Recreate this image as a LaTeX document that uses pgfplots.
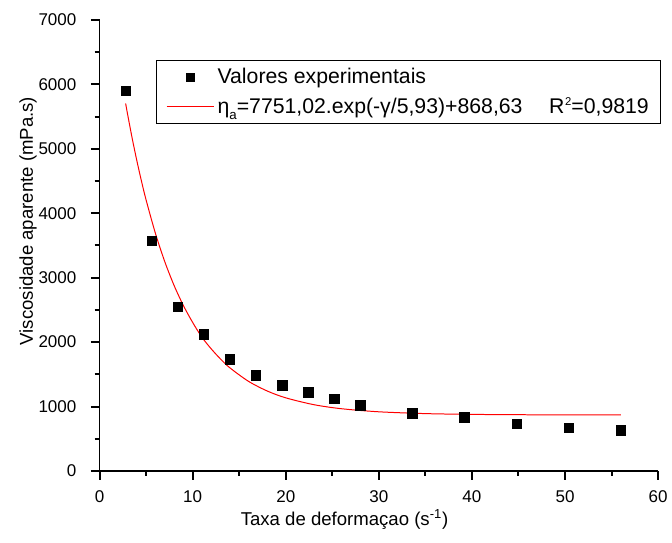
\documentclass[border=0pt]{standalone}
\usepackage{fontspec}
\setmainfont{Liberation Sans}
\usepackage{pgfplots}
\pgfplotsset{compat=1.18}

% legend pictograms: a single square and a short line, both centred at 18pt
\pgfplotsset{
  squareleg/.style={legend image code/.code={%
    \draw[##1, line width=0.4pt, mark size=3pt] plot coordinates {(18pt,0pt)};}},
  lineleg/.style={legend image code/.code={%
    \draw[##1] (0pt,0pt) -- (36pt,0pt);}},
}
\newcommand{\lowidx}[1]{\raisebox{-4.5pt}{\fontsize{10}{10}\selectfont #1}}
\newcommand{\highidx}[1]{\kern0.5pt\raisebox{5.5pt}{\fontsize{8.5}{8.5}\selectfont #1}}

% measured viscosity versus shear rate
\pgfplotstableread{
x     y
2.8   5898
5.6   3575
8.4   2550
11.2  2117
14.0  1731
16.8  1488
19.6  1334
22.4  1221
25.2  1117
28.0  1015
33.6  896
39.2  834
44.8  731
50.4  670
56.0  634
}\experimental

% exponential decay fit, eta = 7751.02 exp(-x/5.93) + 868.63, tabulated
\pgfplotstableread{
x     y
2.8   5702.9
3.0   5542.5
3.5   5164.2
4.0   4817.1
4.5   4497.6
5.0   4204.0
6.0   3686.2
7.0   3249.1
8.0   2879.7
9.0   2567.8
10.0  2304.2
11.0  2074.3
12.0  1893.3
13.0  1736.0
14.0  1600.0
16.0  1390.6
18.0  1241.2
20.0  1134.5
23.0  1028.9
26.0  965.2
30.0  917.9
35.0  889.8
40.0  877.8
45.0  872.6
50.0  870.3
56.0  869.2
}\fit

\begin{document}
\begin{tikzpicture}
\begin{axis}[
  scale only axis,
  width=420.75pt, height=339.75pt,
  xmin=0, xmax=60, ymin=0, ymax=7000,
  axis x line*=bottom, axis y line*=left,
  axis line style={line width=1.3pt, -},
  xtick={0,10,...,60}, ytick={0,1000,...,7000},
  minor xtick={5,15,...,55}, minor ytick={500,1500,...,6500},
  tick align=outside,
  major tick length=6.5pt, minor tick length=3.75pt,
  every tick/.style={line width=1.5pt, draw=black},
  major tick style={line width=1.5pt, draw=black},
  minor tick style={line width=1.5pt, draw=black},
  /pgf/number format/assume math mode=true,
  /pgf/number format/1000 sep={},
  tick label style={font=\fontsize{12.8}{14}\selectfont},
  xticklabel style={yshift=-5pt},
  yticklabel style={xshift=-7.5pt},
  xlabel={Taxa de deformaçao (s\textsuperscript{-1})},
  ylabel={Viscosidade aparente (mPa.s)},
  label style={font=\fontsize{14}{16}\selectfont},
  xlabel style={at={(rel axis cs:0.4385,-0.1214)}, anchor=base},
  ylabel style={at={(rel axis cs:-0.128,0.554)}, anchor=center},
  clip=false,
  legend cell align=left,
  legend style={
    at={(rel axis cs:0.1016,0.9117)}, anchor=north west,
    draw=black, line width=0.8pt,
    font=\fontsize{16}{18}\selectfont,
    inner xsep=7pt, inner ysep=4.25pt,
    row sep=5pt,
    /tikz/every even column/.append style={column sep=4pt},
  },
]
\addplot[only marks, mark=square*, mark size=3.6pt, black, squareleg]
  table[x=x, y=y] {\experimental};
\addlegendentry{Valores experimentais}
\addplot[red, line width=0.75pt, smooth, no marks, lineleg]
  table[x=x, y=y] {\fit};
\addlegendentry{η\lowidx{a}=7751,02.exp(-γ/5,93)+868,63\hspace{20pt}R\highidx{2}=0,9819}
\path (rel axis cs:-0.1783,-0.1589) rectangle (rel axis cs:1.0196,1.0442);
\end{axis}
\end{tikzpicture}
\end{document}
